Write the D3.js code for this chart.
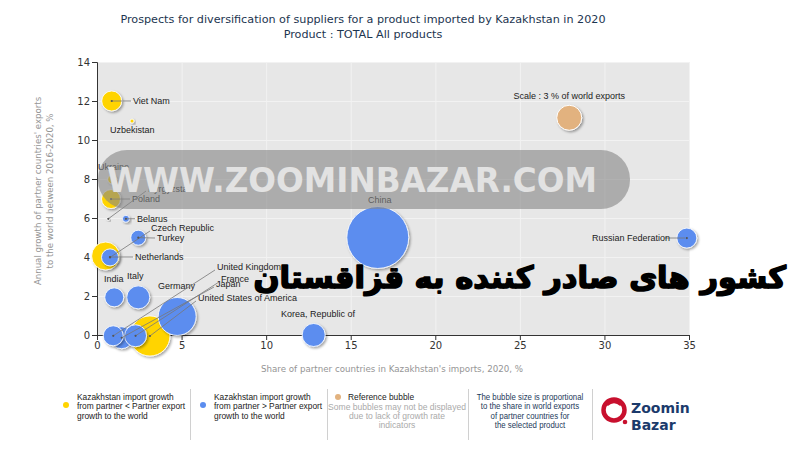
<!DOCTYPE html>
<html><head><meta charset="utf-8">
<script src="https://cdn.jsdelivr.net/npm/d3@7"></script>
<style>body{margin:0;background:#fff}svg{display:block}</style>
</head><body>
<svg id="c" width="800" height="450"></svg>
<script>
// ---------- DATA ----------
const titleLines = ["Prospects for diversification of suppliers for a product imported by Kazakhstan in 2020", "Product : TOTAL All products"];
const countries = ["China","Germany","United States of America","Netherlands","Korea, Republic of","Italy","Japan","France","Viet Nam","United Kingdom","Russian Federation","Poland","India","Czech Republic","Turkey","Ukraine","Belarus","Uzbekistan","Kyrgyzstan"];
// Share of partner countries in Kazakhstan's imports, 2020, %
const shareImports = [16.6, 4.74, 3.13, 0.51, 12.81, 2.44, 1.46, 2.28, 0.87, 0.96, 34.87, 0.83, 1.02, 0.77, 2.44, 0.9, 1.71, 2.07, 0.67];
// Annual growth of partner countries' exports to the world 2016-2020, %
const exportGrowth = [5.0, 0.95, -0.05, 4.05, 0.0, 1.93, -0.14, -0.04, 12.0, -0.04, 4.97, 6.97, 1.93, 3.98, 4.99, 7.98, 5.96, 10.97, 5.96];
// Share in world exports, %
const worldShare = [18.4, 6.9, 7.7, 3.76, 2.54, 2.54, 2.32, 2.32, 1.92, 1.92, 1.92, 1.73, 1.73, 1.39, 1.08, 0.39, 0.235, 0.077, 0.043];
// "lt": Kazakhstan import growth < partner export growth (yellow); "gt": > (blue); "na": no indicator
const growthClass = ["gt","gt","lt","lt","gt","gt","gt","gt","lt","gt","gt","lt","gt","gt","gt","lt","gt","lt","na"];
const reference = {label: "Scale : 3 % of world exports", share: 27.92, growth: 11.14, world: 3};
const xTicks = [0,5,10,15,20,25,30,35];
const yTicks = [0,2,4,6,8,10,12,14];
const xTitle = "Share of partner countries in Kazakhstan's imports, 2020, %";
const yTitle = ["Annual growth of partner countries' exports", "to the world between 2016-2020, %"];
const legend1 = ["Kazakhstan import growth", "from partner < Partner export", "growth to the world"];
const legend2 = ["Kazakhstan import growth", "from partner > Partner export", "growth to the world"];
const legend3 = "Reference bubble";
const legend3note = ["Some bubbles may not be displayed", "due to lack of growth rate", "indicators"];
const legend4 = ["The bubble size is proportional", "to the share in world exports", "of partner countries for", "the selected product"];
const overlayFa = "کشور های صادر کننده به قزاقستان";
const watermark = "WWW.ZOOMINBAZAR.COM";

// ---------- LAYOUT ----------
const L = 97, R = 689, T = 62, B = 335;
const x = d3.scaleLinear().domain([0,35]).range([L,R]);
const y = d3.scaleLinear().domain([0,14]).range([B,T]);
const r = d3.scaleSqrt().domain([0,3]).range([0,12.5]);
const colors = {lt:"#ffd400", gt:"#5b8def", na:"#c8c8c8", ref:"#e2b27f"};
const labelPos = {
 "Viet Nam":{tx:133,ty:101,lead:true},
 "Uzbekistan":{tx:110,ty:130},
 "Ukraine":{tx:98,ty:167},
 "Poland":{tx:132,ty:199,lead:true},
 "Kyrgyzstan":{tx:148,ty:189,lead:true,lx:146,ly:191},
 "Belarus":{tx:137,ty:218.7,lead:true},
 "Czech Republic":{tx:151,ty:228,lead:true,lx:150,ly:231},
 "Turkey":{tx:157,ty:238,lead:true},
 "Netherlands":{tx:135,ty:257,lead:true,fromX:110,fromY:257},
 "India":{tx:104,ty:279},
 "Italy":{tx:127,ty:276},
 "United Kingdom":{tx:217,ty:267,lead:true,lx:215,ly:270},
 "France":{tx:221,ty:279,lead:true,lx:219,ly:282},
 "Japan":{tx:216,ty:284,lead:true,lx:214,ly:287},
 "Germany":{tx:158,ty:286},
 "United States of America":{tx:198,ty:298,lead:true,lx:196,ly:301},
 "Korea, Republic of":{tx:281,ty:314},
 "China":{tx:368,ty:200},
 "Russian Federation":{tx:592,ty:238,lead:true,lx:665,ly:238,end:true}
};

const svg = d3.select("#c");
const defs = svg.append("defs");
const f = defs.append("filter").attr("id","sh").attr("x","-30%").attr("y","-30%").attr("width","160%").attr("height","160%");
f.append("feDropShadow").attr("dx",1.5).attr("dy",1.5).attr("stdDeviation",1).attr("flood-color","#000").attr("flood-opacity",0.35);

function squeeze(sel, k){ sel.each(function(){ const w=this.getComputedTextLength(); d3.select(this).attr("textLength",w*k).attr("lengthAdjust","spacingAndGlyphs"); }); }

// title
svg.append("g").selectAll("text").data(titleLines).join("text")
 .attr("x",363).attr("y",(d,i)=>23+i*15).attr("text-anchor","middle")
 .attr("font-family","DejaVu Sans, Verdana, sans-serif").attr("font-size",11.2).attr("fill","#1c3550").text(d=>d);

// plot background
svg.append("rect").attr("x",L).attr("y",T).attr("width",R-L+1).attr("height",B-T).attr("fill","#e7e7e7");
const grid = svg.append("g").attr("stroke","#f2f2f2").attr("stroke-width",1);
grid.selectAll("line.v").data(xTicks.slice(1)).join("line").attr("class","v")
 .attr("x1",d=>x(d)+0.5).attr("x2",d=>x(d)+0.5).attr("y1",T).attr("y2",B);
grid.selectAll("line.h").data(yTicks.slice(1)).join("line").attr("class","h")
 .attr("x1",L).attr("x2",R).attr("y1",d=>y(d)+0.5).attr("y2",d=>y(d)+0.5);

// axes
const fontAxis = "DejaVu Sans, Verdana, sans-serif";
const gx = svg.append("g").attr("transform",`translate(0,${B})`)
 .call(d3.axisBottom(x).tickValues(xTicks).tickSize(5).tickPadding(2));
const gy = svg.append("g").attr("transform",`translate(${L},0)`)
 .call(d3.axisLeft(y).tickValues(yTicks).tickSize(5).tickPadding(2));
[gx,gy].forEach(g=>{g.select(".domain").attr("stroke","#333");
 g.selectAll(".tick line").attr("stroke","#333");
 g.selectAll(".tick text").attr("font-family",fontAxis).attr("font-size",10).attr("fill","#333");});

svg.append("text").attr("x",392).attr("y",372).attr("text-anchor","middle")
 .attr("font-family",fontAxis).attr("font-size",8.7).attr("fill","#959595").text(xTitle);
svg.append("g").attr("transform","translate(41,191) rotate(-90)").selectAll("text").data(yTitle).join("text")
 .attr("x",0).attr("y",(d,i)=>i*11.5).attr("text-anchor","middle")
 .attr("font-family",fontAxis).attr("font-size",8.6).attr("fill","#959595").text(d=>d);

// bubbles
const data = countries.map((c,i)=>({name:c, sx:shareImports[i], gy:exportGrowth[i], w:worldShare[i], cls:growthClass[i]}));
data.sort((a,b)=>b.w-a.w);
svg.append("g").selectAll("circle").data(data).join("circle")
 .attr("cx",d=>x(d.sx)).attr("cy",d=>y(d.gy)).attr("r",d=>r(d.w))
 .attr("fill",d=>colors[d.cls]).attr("stroke","#fff").attr("stroke-width",1).attr("stroke-opacity",0.85)
 .attr("filter","url(#sh)");
svg.append("circle").attr("cx",x(reference.share)).attr("cy",y(reference.growth)).attr("r",r(reference.world))
 .attr("fill",colors.ref).attr("stroke","#fff").attr("stroke-width",1).attr("filter","url(#sh)");
svg.append("text").attr("x",x(reference.share)).attr("y",y(reference.growth)-19).attr("text-anchor","middle")
 .attr("font-family","Liberation Sans, Arial, sans-serif").attr("font-size",9).attr("fill","#222").text(reference.label);

// leaders + labels
const gl = svg.append("g");
data.forEach(d=>{
 const p = labelPos[d.name]; if(!p) return;
 const cx = p.fromX ?? x(d.sx), cy = p.fromY ?? y(d.gy);
 if(p.lead){
  const lx = p.lx ?? (p.tx-2), ly = p.ly ?? p.ty;
  gl.append("line").attr("x1",p.end?lx:cx).attr("y1",p.end?ly:cy).attr("x2",p.end?685:lx).attr("y2",ly)
   .attr("stroke","#777").attr("stroke-width",0.8);
  gl.append("circle").attr("cx",cx).attr("cy",cy).attr("r",1.1).attr("fill","#555");
 }
 gl.append("text").attr("x",p.tx).attr("y",p.ty+3.2)
  .attr("font-family","Liberation Sans, Arial, sans-serif").attr("font-size",9).attr("fill","#222").text(d.name);
});

// watermark (semi-transparent)
svg.append("rect").attr("x",98).attr("y",150).attr("width",532).attr("height",59).attr("rx",29)
 .attr("fill","#858585").attr("opacity",0.6);
svg.append("text").attr("x",352).attr("y",192).attr("text-anchor","middle")
 .attr("font-family","DejaVu Sans, sans-serif").attr("font-weight","bold").attr("font-size",34)
 .attr("textLength",490).attr("lengthAdjust","spacingAndGlyphs")
 .attr("fill","#e2e2e2").text(watermark);

// Persian overlay, fitted to its width in the reference
const fa = svg.append("text").attr("x",786).attr("y",288).attr("text-anchor","end")
 .attr("font-family","DejaVu Sans, Noto Sans, sans-serif").attr("font-weight","bold").attr("font-size",40)
 .attr("fill","#000").attr("stroke","#000").attr("stroke-width",1.6).attr("stroke-linejoin","round").text(overlayFa);
const faW = fa.node().getComputedTextLength();
if (faW > 0) fa.attr("font-size", Math.min(48, 40*533/faW));

// legend
const lf = "Liberation Sans, Arial, sans-serif";
function lines(g, arr, xx, y0, anchor, color, k){
 const s = g.selectAll(null).data(arr).join("text").attr("x",xx).attr("y",(d,i)=>y0+i*9.3)
  .attr("text-anchor",anchor).attr("font-family",lf).attr("font-size",9).attr("fill",color).text(d=>d);
 squeeze(s,k);
}
const lg = svg.append("g");
lg.append("circle").attr("cx",66).attr("cy",405).attr("r",3).attr("fill",colors.lt);
lines(lg, legend1, 77, 400, "start", "#222", 0.93);
lg.append("circle").attr("cx",203).attr("cy",405).attr("r",3).attr("fill",colors.gt);
lines(lg, legend2, 214, 400, "start", "#222", 0.93);
lg.append("circle").attr("cx",338).attr("cy",397).attr("r",3).attr("fill",colors.ref);
lines(lg, [legend3], 348, 400, "start", "#222", 0.93);
lines(lg, legend3note, 397, 409.5, "middle", "#aaa", 0.95);
lines(lg, legend4, 530, 400, "middle", "#1e3a5a", 0.87);
lg.selectAll("line.sep").data([190,327,468,592]).join("line").attr("class","sep")
 .attr("x1",d=>d+0.5).attr("x2",d=>d+0.5).attr("y1",389).attr("y2",440).attr("stroke","#d0d0d0");
// logo
const logo = lg.append("g");
logo.append("circle").attr("cx",614).attr("cy",410).attr("r",10.5).attr("fill","none").attr("stroke","#c8102e").attr("stroke-width",4.5);
logo.append("path").attr("d","M607,405 Q614,399 621,405").attr("fill","none").attr("stroke","#c8102e").attr("stroke-width",2.5);
logo.append("circle").attr("cx",625).attr("cy",422).attr("r",2.3).attr("fill","#c8102e");
logo.append("text").attr("x",631).attr("y",413).attr("font-family","DejaVu Sans, sans-serif").attr("font-weight","bold").attr("font-size",14).attr("fill","#1b3a6b").text("Zoomin");
logo.append("text").attr("x",631).attr("y",430).attr("font-family","DejaVu Sans, sans-serif").attr("font-weight","bold").attr("font-size",14).attr("fill","#1b3a6b").text("Bazar");
</script>
</body></html>
